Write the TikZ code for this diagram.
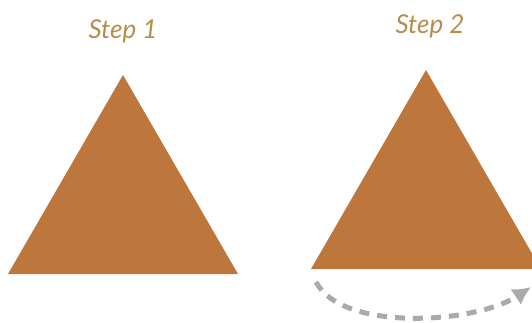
\documentclass[tikz,border=0pt]{standalone}
\usepackage{fontspec}
\setmainfont{Lato}
\usetikzlibrary{arrows.meta}
\definecolor{copper}{RGB}{189,118,60}
\definecolor{tan}{RGB}{184,140,76}
\definecolor{gray}{RGB}{170,170,172}

\begin{document}
\begin{tikzpicture}[x=1pt,y=-1pt]
\tikzstyle{T}=[fill=copper]
\tikzstyle{L}=[text=tan,font=\fontsize{26}{26}\selectfont\itshape]
\useasboundingbox (0,0) rectangle (532,322);
\clip (0,0) rectangle (532,322);
% triangles
\coordinate (a1) at (123,75);
\coordinate (b1) at (8,274);
\coordinate (c1) at (238,274);
\coordinate (a2) at (426,70);
\coordinate (b2) at (311,269);
\coordinate (c2) at (541,269);
\fill[T] (a1)--(b1)--(c1)--cycle;
\fill[T] (a2)--(b2)--(c2)--cycle;
% labels
\node[L](s1) at (123,31){Step 1};
\node[L](s2) at (430,26){Step 2};
% arrow
\coordinate (from) at (316,282);
\coordinate (to) at (531,287);
\draw[gray,line width=5pt,dash pattern=on 10pt off 8pt,-{Latex[length=18pt,width=19pt]}]
(from) .. controls (342,332) and (475,324) .. (to);
\end{tikzpicture}
\end{document}
